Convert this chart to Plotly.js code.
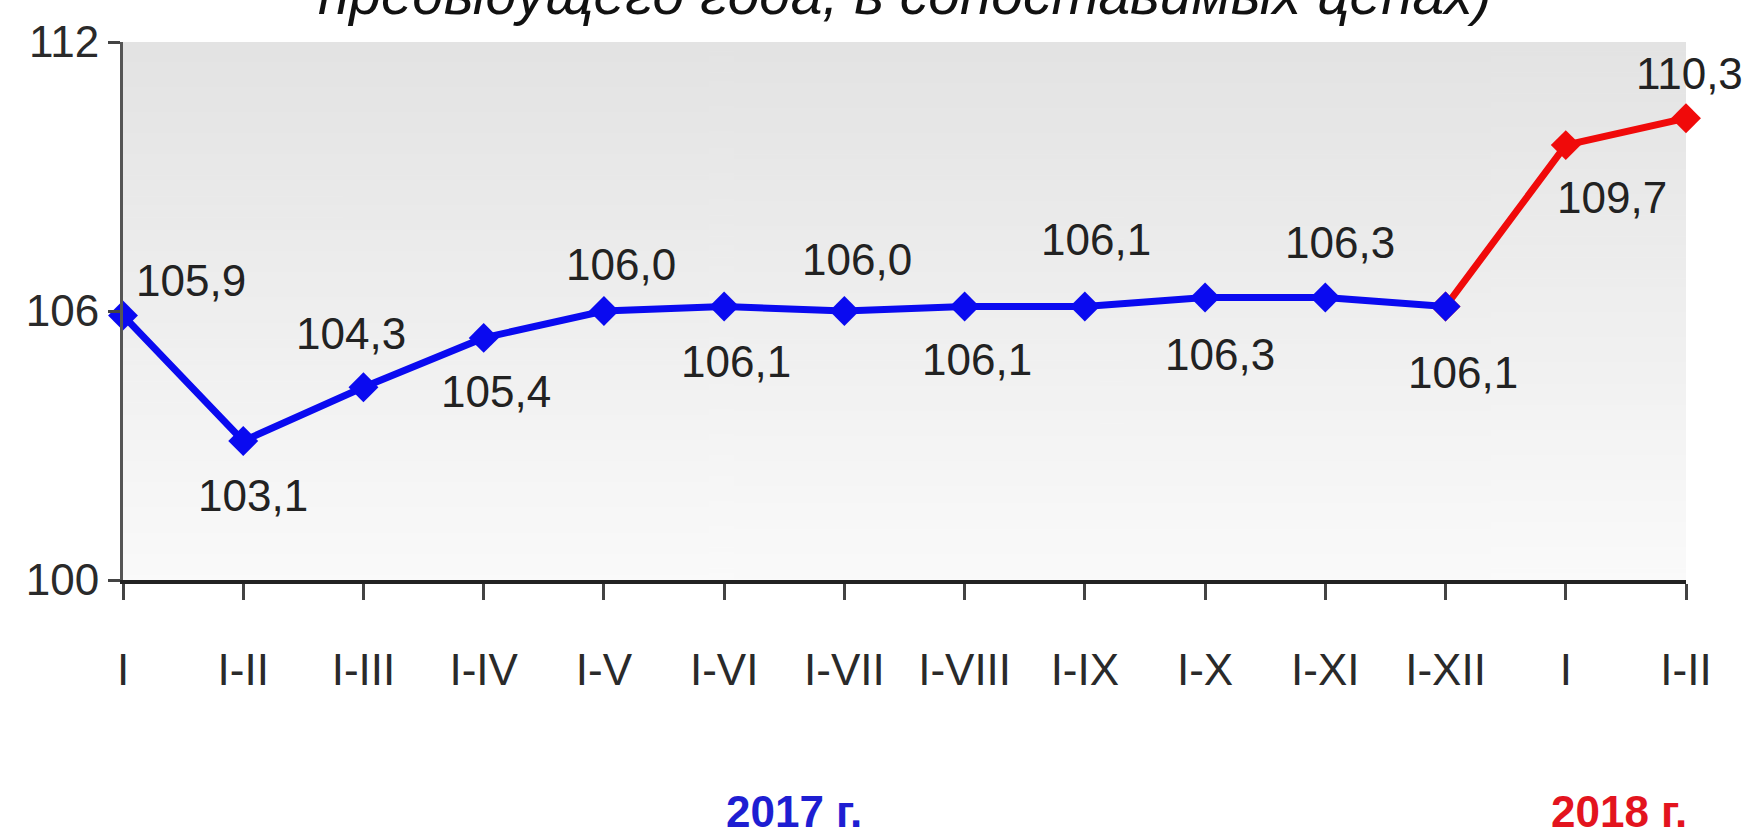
<!DOCTYPE html>
<html>
<head>
<meta charset="utf-8">
<script src="https://cdn.plot.ly/plotly-3.0.1.min.js"></script>
<style>
  html, body { margin: 0; padding: 0; background: #ffffff; }
  #chart { width: 1748px; height: 837px; }
</style>
</head>
<body>
<div id="chart"></div>
<script>
// ---- data ----
const periodLabels = ['I', 'I-II', 'I-III', 'I-IV', 'I-V', 'I-VI', 'I-VII', 'I-VIII', 'I-IX', 'I-X', 'I-XI', 'I-XII', 'I', 'I-II'];
const values2017 = [105.9, 103.1, 104.3, 105.4, 106.0, 106.1, 106.0, 106.1, 106.1, 106.3, 106.3, 106.1];
const values2018 = [109.7, 110.3];
const yearLabels = ['2017 г.', '2018 г.'];
const titleLine = 'предыдущего года, в сопоставимых ценах)';
const yTicks = [100, 106, 112];

// ---- styling ----
const FONT = '"Liberation Sans", Arial, sans-serif';
const BLUE = '#0a0af0';
const RED = '#f00a0a';
// label placement (pixel shifts from each point), style only
const labelShift = [
  [68, -35], [10, 54], [-12, -54], [12, 54], [17, -47], [12, 55], [13, -52],
  [12, 53], [11, -67], [15, 57], [15, -55], [17, 66], [46, 52], [3, -45]
];

const idx2017 = values2017.map((_, i) => i);
const idx2018 = values2018.map((_, i) => values2017.length + i);

// red connector starts from last 2017 point
const redX = [idx2017[idx2017.length - 1]].concat(idx2018);
const redY = [values2017[values2017.length - 1]].concat(values2018);

const traces = [
  {
    x: redX, y: redY, type: 'scatter', mode: 'lines+markers',
    line: { color: RED, width: 7 },
    marker: { symbol: 'diamond', size: 23, color: RED },
    cliponaxis: false, hoverinfo: 'skip', showlegend: false
  },
  {
    x: idx2017, y: values2017, type: 'scatter', mode: 'lines+markers',
    line: { color: BLUE, width: 7 },
    marker: { symbol: 'diamond', size: 23, color: BLUE },
    cliponaxis: false, hoverinfo: 'skip', showlegend: false
  }
];

const allX = idx2017.concat(idx2018);
const allY = values2017.concat(values2018);
const annotations = allX.map((xv, i) => ({
  x: xv, y: allY[i], xref: 'x', yref: 'y',
  text: allY[i].toFixed(1).replace('.', ','),
  showarrow: false,
  xshift: labelShift[i][0], yshift: -labelShift[i][1],
  font: { family: FONT, size: 44, color: '#222222' }
}));

annotations.push({
  x: 0.5, y: 1, xref: 'paper', yref: 'paper', yanchor: 'bottom',
  xshift: 0, yshift: 14,
  text: '<i>' + titleLine + '</i>', showarrow: false,
  font: { family: FONT, size: 57, color: '#111111' }
});
annotations.push({
  x: (idx2017[0] + idx2017[idx2017.length - 1]) / 2, y: 0, xref: 'x', yref: 'paper',
  yanchor: 'middle', yshift: -231, xshift: 10,
  text: '<b>' + yearLabels[0] + '</b>', showarrow: false,
  font: { family: FONT, size: 44, color: '#1e1ed2' }
});
annotations.push({
  x: (idx2018[0] + idx2018[idx2018.length - 1]) / 2, y: 0, xref: 'x', yref: 'paper',
  yanchor: 'middle', yshift: -231, xshift: -7,
  text: '<b>' + yearLabels[1] + '</b>', showarrow: false,
  font: { family: FONT, size: 44, color: '#e3141e' }
});

// vertical gradient image for plot background
function gradientURI() {
  const c = document.createElement('canvas');
  c.width = 4; c.height = 256;
  const g = c.getContext('2d');
  const grd = g.createLinearGradient(0, 0, 0, 256);
  grd.addColorStop(0, '#e3e3e3');
  grd.addColorStop(1, '#fafafa');
  g.fillStyle = grd;
  g.fillRect(0, 0, 4, 256);
  return c.toDataURL();
}

const layout = {
  width: 1748, height: 837,
  margin: { l: 123, r: 62, t: 42, b: 257 },
  paper_bgcolor: '#ffffff',
  plot_bgcolor: 'rgba(0,0,0,0)',
  showlegend: false,
  font: { family: FONT, color: '#222222' },
  xaxis: {
    range: [0, periodLabels.length - 1],
    tickmode: 'array',
    tickvals: periodLabels.map((_, i) => i),
    ticktext: periodLabels,
    showgrid: false, zeroline: false,
    showline: true, linecolor: '#222222', linewidth: 4,
    ticks: 'outside', ticklen: 16, tickwidth: 3, tickcolor: '#444444',
    ticklabelstandoff: 32,
    tickfont: { family: FONT, size: 44, color: '#2a2a2a' },
    fixedrange: true
  },
  yaxis: {
    range: [yTicks[0], yTicks[yTicks.length - 1]],
    tickmode: 'array',
    tickvals: yTicks,
    ticktext: yTicks.map(String),
    showgrid: false, zeroline: false,
    showline: true, linecolor: '#555555', linewidth: 3,
    ticks: 'outside', ticklen: 12, tickwidth: 3, tickcolor: '#444444',
    ticklabelstandoff: 0,
    tickfont: { family: FONT, size: 44, color: '#2a2a2a' },
    fixedrange: true
  },
  images: [{
    source: gradientURI(), xref: 'paper', yref: 'paper',
    x: 0, y: 1, sizex: 1, sizey: 1, xanchor: 'left', yanchor: 'top',
    sizing: 'stretch', layer: 'below'
  }],
  annotations: annotations
};

Plotly.newPlot('chart', traces, layout, { displayModeBar: false, staticPlot: true });
</script>
</body>
</html>
